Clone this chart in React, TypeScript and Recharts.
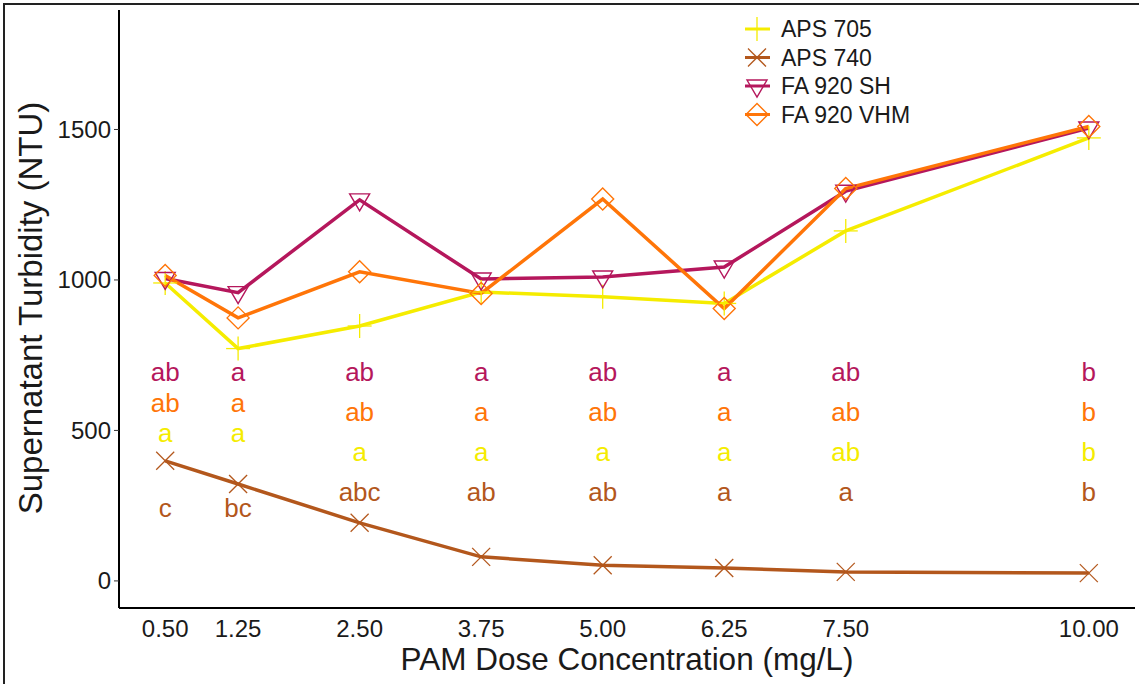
import React from 'react';
import {
  ComposedChart,
  Line,
  Scatter,
  XAxis,
  YAxis,
  Label,
} from 'recharts';

// dose concentrations (mg/L)
const doses = [0.5, 1.25, 2.5, 3.75, 5.0, 6.25, 7.5, 10.0];

// supernatant turbidity (NTU)
const aps705 = [990, 772, 847, 960, 944, 922, 1163, 1472];
const aps740 = [399, 322, 193, 80, 52, 43, 30, 26];
const fa920sh = [1005, 958, 1266, 1003, 1010, 1043, 1295, 1505];
const fa920vhm = [1015, 874, 1027, 955, 1269, 905, 1304, 1510];

// significance letters
const shLetters = ['ab', 'a', 'ab', 'a', 'ab', 'a', 'ab', 'b'];
const vhmLetters = ['ab', 'a', 'ab', 'a', 'ab', 'a', 'ab', 'b'];
const aps705Letters = ['a', 'a', 'a', 'a', 'a', 'a', 'ab', 'b'];
const aps740Letters = ['c', 'bc', 'abc', 'ab', 'ab', 'a', 'a', 'b'];

// height (NTU) at which each letter is written
const shLetterY = [694, 694, 694, 694, 694, 694, 694, 694];
const vhmLetterY = [591, 591, 561, 561, 561, 561, 561, 561];
const aps705LetterY = [492, 492, 428, 428, 428, 428, 428, 428];
const aps740LetterY = [242, 242, 296, 296, 296, 296, 296, 296];

const xTicks = [0.5, 1.25, 2.5, 3.75, 5.0, 6.25, 7.5, 10.0];
const yTicks = [0, 500, 1000, 1500];

const FONT = '"Liberation Sans", Arial, sans-serif';

const C705 = '#F5EC00';
const C740 = '#B3571C';
const CSH = '#B5175C';
const CVHM = '#FF7508';

const toSeries = (vals: number[]) => doses.map((x, i) => ({ x, y: vals[i] }));
const toLetters = (ys: number[], letters: string[]) =>
  doses.map((x, i) => ({ x, y: ys[i], letter: letters[i] }));

const Marker = ({ kind, cx, cy, color }: any) => {
  if (cx == null || cy == null) return null;
  if (kind === 'plus') {
    return (
      <g stroke={color} strokeWidth={1.3}>
        <line x1={cx - 12} y1={cy} x2={cx + 12} y2={cy} />
        <line x1={cx} y1={cy - 12} x2={cx} y2={cy + 12} />
      </g>
    );
  }
  if (kind === 'cross') {
    return (
      <g stroke={color} strokeWidth={1.3}>
        <line x1={cx - 9} y1={cy - 9} x2={cx + 9} y2={cy + 9} />
        <line x1={cx - 9} y1={cy + 9} x2={cx + 9} y2={cy - 9} />
      </g>
    );
  }
  if (kind === 'tri') {
    return (
      <polygon
        points={`${cx - 10},${cy - 6} ${cx + 10},${cy - 6} ${cx},${cy + 11}`}
        fill="none"
        stroke={color}
        strokeWidth={1.4}
      />
    );
  }
  return (
    <polygon
      points={`${cx},${cy - 11} ${cx + 11},${cy} ${cx},${cy + 11} ${cx - 11},${cy}`}
      fill="none"
      stroke={color}
      strokeWidth={1.4}
    />
  );
};

const seriesList = [
  { name: 'APS 705', values: aps705, color: C705, kind: 'plus' },
  { name: 'APS 740', values: aps740, color: C740, kind: 'cross' },
  { name: 'FA 920 SH', values: fa920sh, color: CSH, kind: 'tri' },
  { name: 'FA 920 VHM', values: fa920vhm, color: CVHM, kind: 'diamond' },
];

const letterGroups = [
  { key: 'sh', ys: shLetterY, letters: shLetters, color: CSH },
  { key: 'vhm', ys: vhmLetterY, letters: vhmLetters, color: CVHM },
  { key: 'a705', ys: aps705LetterY, letters: aps705Letters, color: C705 },
  { key: 'a740', ys: aps740LetterY, letters: aps740Letters, color: C740 },
];

const LegendBox = () => (
  <svg width={240} height={120} style={{ position: 'absolute', left: 740, top: 15 }}>
    {seriesList.map((s, i) => {
      const cy = 14 + i * 28.5;
      return (
        <g key={s.name}>
          <line x1={5} y1={cy} x2={30} y2={cy} stroke={s.color} strokeWidth={3} />
          <Marker kind={s.kind} cx={17} cy={cy} color={s.color} />
          <text
            x={41}
            y={cy}
            dominantBaseline="central"
            fontSize={23}
            fontFamily={FONT}
            fill="#1a1a1a"
          >
            {s.name}
          </text>
        </g>
      );
    })}
  </svg>
);

const XTitle = ({ viewBox }: any) => (
  <text
    x={viewBox.x + viewBox.width / 2}
    y={viewBox.y + 62}
    textAnchor="middle"
    fontSize={31.5}
    fontFamily={FONT}
    fill="#1a1a1a"
  >
    PAM Dose Concentration (mg/L)
  </text>
);

const YTitle = ({ viewBox }: any) => {
  const cx = 30;
  const cy = viewBox.y + viewBox.height / 2 - 1;
  return (
    <text
      x={cx}
      y={cy}
      transform={`rotate(-90, ${cx}, ${cy})`}
      textAnchor="middle"
      dominantBaseline="central"
      fontSize={33}
      fontFamily={FONT}
      fill="#1a1a1a"
    >
      Supernatant Turbidity (NTU)
    </text>
  );
};

export default function App() {
  return (
    <div
      style={{
        position: 'absolute',
        left: 0,
        top: 0,
        width: 1139,
        height: 684,
        background: '#fff',
      }}
    >
      <div style={{ position: 'absolute', left: 3, top: 3, width: 1136, height: 2, background: '#222' }} />
      <div style={{ position: 'absolute', left: 3, top: 3, width: 2, height: 681, background: '#222' }} />
      <ComposedChart
        width={1139}
        height={684}
        margin={{ top: 10, right: 4, bottom: 0, left: 0 }}
        style={{ fontFamily: FONT }}
      >
        <XAxis
          dataKey="x"
          type="number"
          domain={[0.025, 10.475]}
          ticks={xTicks}
          tickFormatter={(v: number) => v.toFixed(2)}
          allowDataOverflow
          height={76}
          axisLine={{ stroke: '#000', strokeWidth: 2 }}
          tickLine={false}
          tickSize={0}
          tickMargin={12}
          tick={{ fill: '#1a1a1a', fontSize: 24 }}
        >
          <Label content={XTitle} />
        </XAxis>
        <YAxis
          type="number"
          domain={[-90, 1897]}
          ticks={yTicks}
          allowDataOverflow
          width={119}
          axisLine={{ stroke: '#000', strokeWidth: 2 }}
          tickLine={{ stroke: '#333' }}
          tickSize={5}
          tickMargin={3}
          tick={{ fill: '#1a1a1a', fontSize: 24 }}
        >
          <Label content={YTitle} />
        </YAxis>
        {seriesList.map((s) => (
          <Line
            key={s.name}
            name={s.name}
            data={toSeries(s.values)}
            dataKey="y"
            type="linear"
            stroke={s.color}
            strokeWidth={3.5}
            isAnimationActive={false}
            dot={(p: any) => (
              <Marker key={`${s.name}-${p.index}`} kind={s.kind} cx={p.cx} cy={p.cy} color={s.color} />
            )}
            activeDot={false}
          />
        ))}
        {letterGroups.map((g) => (
          <Scatter
            key={g.key}
            data={toLetters(g.ys, g.letters)}
            dataKey="y"
            legendType="none"
            isAnimationActive={false}
            shape={(p: any) => (
              <text
                x={p.cx}
                y={p.cy}
                textAnchor="middle"
                dominantBaseline="central"
                fontSize={26}
                fontFamily={FONT}
                fill={g.color}
              >
                {p.payload.letter}
              </text>
            )}
          />
        ))}
      </ComposedChart>
      <LegendBox />
    </div>
  );
}
